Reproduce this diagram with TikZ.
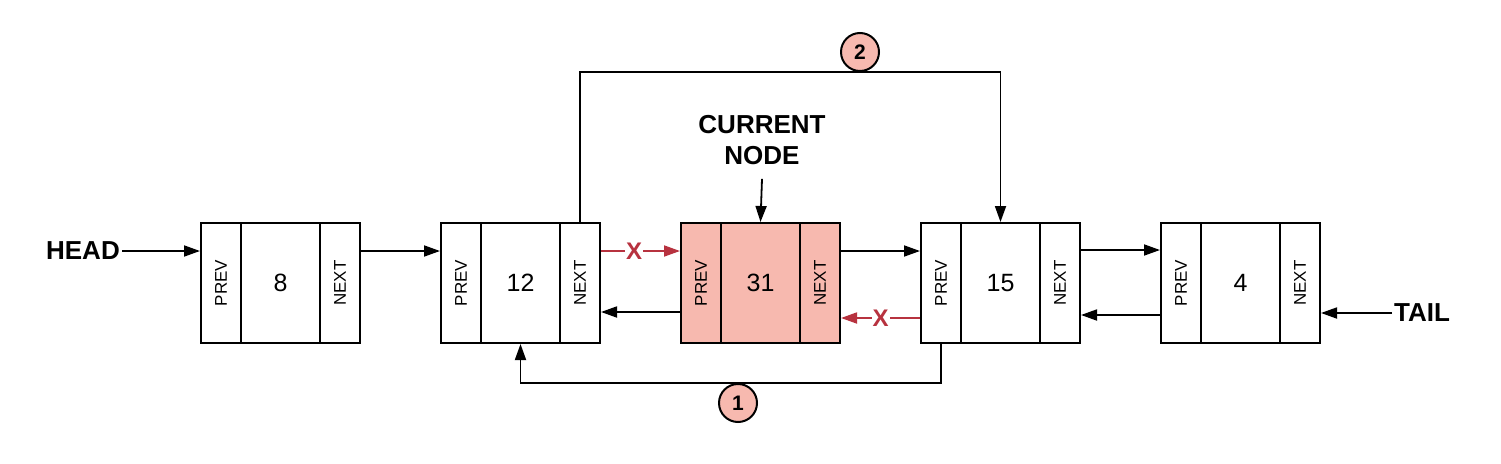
\documentclass[tikz,border=0pt]{standalone}
\usepackage{fontspec}
\setmainfont{Liberation Sans}
\usetikzlibrary{arrows.meta}

\definecolor{nodepink}{HTML}{F7B9AF}
\definecolor{linkred}{HTML}{B7323F}

\tikzset{
  cell/.style={draw, line width=2pt, minimum height=120pt, inner sep=0pt, font=\fontsize{25}{28}\selectfont},
  ptrcell/.style={cell, minimum width=40pt},
  valcell/.style={cell, minimum width=79pt},
  ptrtext/.style={rotate=90, font=\fontsize{17}{19}\selectfont},
  lbl/.style={font=\fontsize{26}{31}\selectfont\bfseries, inner sep=2pt},
  arr/.style={line width=1.8pt, -{Triangle[length=16pt,width=11pt]}},
  redarr/.style={arr, draw=linkred},
  xmark/.style={font=\fontsize{24}{26}\selectfont\bfseries, text=linkred, fill=white, inner sep=1pt},
  num/.style={circle, draw, line width=2pt, fill=nodepink, minimum size=38pt, inner sep=0pt, font=\fontsize{21}{23}\selectfont\bfseries}
}

\begin{document}
\begin{tikzpicture}[x=1pt,y=1pt,yscale=-1,xscale=1]
\useasboundingbox (0,0) rectangle (1501,463);

% List node 8
\node[ptrcell] (p1) at (221,283) {};
\node[ptrtext] at (p1) {PREV};
\node[valcell] (v1) at (280.5,283) {8};
\node[ptrcell] (n1) at (340,283) {};
\node[ptrtext] at (n1) {NEXT};

% List node 12
\node[ptrcell] (p2) at (461,283) {};
\node[ptrtext] at (p2) {PREV};
\node[valcell] (v2) at (520.5,283) {12};
\node[ptrcell] (n2) at (580,283) {};
\node[ptrtext] at (n2) {NEXT};

% List node 31 (current)
\node[ptrcell, fill=nodepink] (p3) at (701,283) {};
\node[ptrtext] at (p3) {PREV};
\node[valcell, fill=nodepink] (v3) at (760.5,283) {31};
\node[ptrcell, fill=nodepink] (n3) at (820,283) {};
\node[ptrtext] at (n3) {NEXT};

% List node 15
\node[ptrcell] (p4) at (941,283) {};
\node[ptrtext] at (p4) {PREV};
\node[valcell] (v4) at (1000.5,283) {15};
\node[ptrcell] (n4) at (1060,283) {};
\node[ptrtext] at (n4) {NEXT};

% List node 4
\node[ptrcell] (p5) at (1181,283) {};
\node[ptrtext] at (p5) {PREV};
\node[valcell] (v5) at (1240.5,283) {4};
\node[ptrcell] (n5) at (1300,283) {};
\node[ptrtext] at (n5) {NEXT};

% Text Node
\node[lbl, anchor=east] (head) at (122,251) {HEAD};
\node[lbl, anchor=west] (tail) at (1392,313) {TAIL};
\node[lbl, align=center] (cur) at (762,140) {CURRENT\\NODE};

% Links (yscale=-1 flips the shifts too)
\draw[arr] (head.east) -- ([yshift=-32pt]p1.west);
\draw[arr] ([yshift=-32pt]n1.east) -- ([yshift=-32pt]p2.west);
\draw[redarr] ([yshift=-32pt]n2.east) -- node[xmark, pos=0.42] {X} ([yshift=-32pt]p3.west);
\draw[arr] ([yshift=29pt]p3.west) -- ([yshift=29pt]n2.east);
\draw[arr] ([yshift=-32pt]n3.east) -- ([yshift=-32pt]p4.west);
\draw[redarr] ([yshift=35pt]p4.west) -- node[xmark, pos=0.5] {X} ([yshift=35pt]n3.east);
\draw[arr] ([yshift=-33pt]n4.east) -- ([yshift=-33pt]p5.west);
\draw[arr] ([yshift=32pt]p5.west) -- ([yshift=32pt]n4.east);
\draw[arr] (tail.west) -- ([yshift=30pt]n5.east);
\draw[arr] ([yshift=12pt]cur.south) -- (v3.north);

% Relinking steps
\coordinate (top) at (0,72);
\coordinate (bot) at (0,383);
\draw[arr] (n2.north) -- (n2.north |- top) -- (v4.north |- top) -- (v4.north);
\draw[arr] (p4.south) -- (p4.south |- bot) -- (v2.south |- bot) -- (v2.south);
\node[num] (c2) at (860,52) {2};
\node[num] (c1) at (738,403) {1};

\end{tikzpicture}
\end{document}
